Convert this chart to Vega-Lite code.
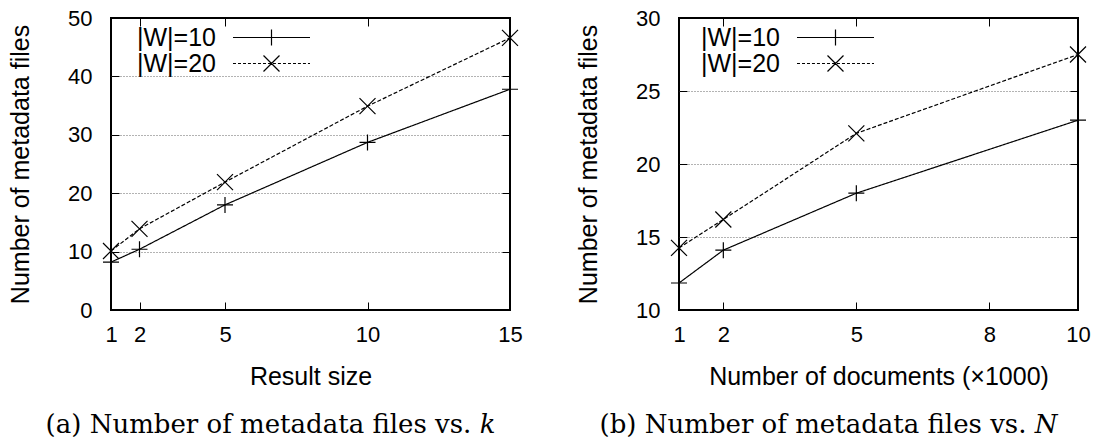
{
  "$schema": "https://vega.github.io/schema/vega-lite/v6.json",
  "background": "white",
  "padding": {"left": 7, "top": 6, "right": 5, "bottom": 0},
  "datasets": {
    "a": [
      {"size": 1, "files": 8.2, "series": "|W|=10"},
      {"size": 2, "files": 10.4, "series": "|W|=10"},
      {"size": 5, "files": 18.0, "series": "|W|=10"},
      {"size": 10, "files": 28.7, "series": "|W|=10"},
      {"size": 15, "files": 37.8, "series": "|W|=10"},
      {"size": 1, "files": 10.1, "series": "|W|=20"},
      {"size": 2, "files": 13.9, "series": "|W|=20"},
      {"size": 5, "files": 21.9, "series": "|W|=20"},
      {"size": 10, "files": 34.9, "series": "|W|=20"},
      {"size": 15, "files": 46.6, "series": "|W|=20"}
    ],
    "b": [
      {"docs": 1, "files": 11.85, "series": "|W|=10"},
      {"docs": 2, "files": 14.1, "series": "|W|=10"},
      {"docs": 5, "files": 18.0, "series": "|W|=10"},
      {"docs": 10, "files": 23.0, "series": "|W|=10"},
      {"docs": 1, "files": 14.25, "series": "|W|=20"},
      {"docs": 2, "files": 16.2, "series": "|W|=20"},
      {"docs": 5, "files": 22.1, "series": "|W|=20"},
      {"docs": 10, "files": 27.5, "series": "|W|=20"}
    ]
  },
  "hconcat": [
    {
      "width": 399,
      "height": 292,
      "title": {"text": "(a) Number of metadata files vs. 𝑘", "orient": "bottom", "anchor": "middle", "frame": "group", "dx": -40, "offset": 23, "font": "DejaVu Serif", "fontSize": 26, "fontWeight": "normal", "color": "black"},
      "data": {"name": "a"},
      "layer": [
        {
          "mark": {"type": "line", "color": "black", "strokeWidth": 1.2},
          "encoding": {
            "x": {"field": "size", "type": "quantitative", "scale": {"domain": [1, 15], "nice": false, "zero": false},
                  "axis": {"values": [1, 2, 5, 10, 15], "title": "Result size", "tickSize": -8, "labelPadding": 22, "titlePadding": 19, "labelFlush": false, "grid": false}},
            "y": {"field": "files", "type": "quantitative", "scale": {"domain": [0, 50], "nice": false},
                  "axis": {"values": [0, 10, 20, 30, 40, 50], "title": "Number of metadata files", "tickSize": -8, "labelPadding": 27, "titlePadding": 34, "grid": true, "gridColor": "#666", "gridDash": [1, 2], "gridWidth": 1,
                           "gridOpacity": {"condition": {"test": "datum.value == 0 || datum.value == 50", "value": 0}, "value": 1}}},
            "detail": {"field": "series", "type": "nominal"},
            "strokeDash": {"condition": {"test": "datum.series === '|W|=20'", "value": [4, 2]}, "value": [1, 0]}
          }
        },
        {
          "mark": {"type": "point", "filled": false, "color": "black", "strokeWidth": 1.2, "size": 256, "opacity": 1},
          "encoding": {
            "x": {"field": "size", "type": "quantitative", "axis": {"orient": "top", "values": [1, 2, 5, 10, 15], "labels": false, "title": null, "tickSize": -8, "grid": false}},
            "y": {"field": "files", "type": "quantitative", "axis": {"orient": "right", "values": [0, 10, 20, 30, 40, 50], "labels": false, "title": null, "tickSize": -8, "grid": false}},
            "shape": {"condition": {"test": "datum.series === '|W|=20'", "value": "M-1,-1L1,1M-1,1L1,-1"}, "value": "M-1,0H1M0,-1V1"}
          }
        },
        {
          "transform": [{"filter": "datum.files < 0"}],
          "mark": {"type": "point", "filled": false, "color": "black", "strokeWidth": 1.2, "opacity": 1},
          "encoding": {
            "x": {"field": "size", "type": "quantitative", "axis": null},
            "y": {"field": "files", "type": "quantitative", "axis": null},
            "shape": {"field": "series", "type": "nominal",
                      "scale": {"domain": ["|W|=10", "|W|=20"], "range": ["M-4.53,0H4.53M0,-0.94V0.94", "M-4.53,0H-4.18M-3.94,0H-3.59M-3.35,0H-3.0M-2.77,0H-2.42M-2.18,0H-1.83M-1.59,0H-1.24M-1,0H-0.65M-0.41,0H-0.06M0.17,0H0.52M0.76,0H1.11M1.35,0H1.7M1.94,0H2.29M2.53,0H2.88M3.11,0H3.46M3.7,0H4.05M4.29,0H4.53M-0.94,-0.94L0.94,0.94M-0.94,0.94L0.94,-0.94"]},
                      "legend": {"orient": "none", "legendX": 148, "legendY": 7, "title": null, "symbolSize": 289, "symbolStrokeWidth": 1.2, "symbolStrokeColor": "black", "symbolFillColor": "transparent", "symbolOpacity": 1,
                                 "labelFont": "Liberation Sans", "labelFontSize": 25, "labelColor": "black", "labelAlign": "right", "labelOffset": -68, "rowPadding": 0, "padding": 0}}
          }
        }
      ],
      "resolve": {"axis": {"x": "independent", "y": "independent"}}
    },
    {
      "width": 399,
      "height": 292,
      "title": {"text": "(b) Number of metadata files vs. 𝑁", "orient": "bottom", "anchor": "middle", "frame": "group", "dx": -50, "offset": 23, "font": "DejaVu Serif", "fontSize": 26, "fontWeight": "normal", "color": "black"},
      "data": {"name": "b"},
      "layer": [
        {
          "mark": {"type": "line", "color": "black", "strokeWidth": 1.2},
          "encoding": {
            "x": {"field": "docs", "type": "quantitative", "scale": {"domain": [1, 10], "nice": false, "zero": false},
                  "axis": {"values": [1, 2, 5, 8, 10], "title": "Number of documents (×1000)", "tickSize": -8, "labelPadding": 22, "titlePadding": 19, "labelFlush": false, "grid": false}},
            "y": {"field": "files", "type": "quantitative", "scale": {"domain": [10, 30], "nice": false, "zero": false},
                  "axis": {"values": [10, 15, 20, 25, 30], "title": "Number of metadata files", "tickSize": -8, "labelPadding": 27, "titlePadding": 34, "grid": true, "gridColor": "#666", "gridDash": [1, 2], "gridWidth": 1,
                           "gridOpacity": {"condition": {"test": "datum.value == 10 || datum.value == 30", "value": 0}, "value": 1}}},
            "detail": {"field": "series", "type": "nominal"},
            "strokeDash": {"condition": {"test": "datum.series === '|W|=20'", "value": [4, 2]}, "value": [1, 0]}
          }
        },
        {
          "mark": {"type": "point", "filled": false, "color": "black", "strokeWidth": 1.2, "size": 256, "opacity": 1},
          "encoding": {
            "x": {"field": "docs", "type": "quantitative", "axis": {"orient": "top", "values": [1, 2, 5, 8, 10], "labels": false, "title": null, "tickSize": -8, "grid": false}},
            "y": {"field": "files", "type": "quantitative", "axis": {"orient": "right", "values": [10, 15, 20, 25, 30], "labels": false, "title": null, "tickSize": -8, "grid": false}},
            "shape": {"condition": {"test": "datum.series === '|W|=20'", "value": "M-1,-1L1,1M-1,1L1,-1"}, "value": "M-1,0H1M0,-1V1"}
          }
        },
        {
          "transform": [{"filter": "datum.files < 0"}],
          "mark": {"type": "point", "filled": false, "color": "black", "strokeWidth": 1.2, "opacity": 1},
          "encoding": {
            "x": {"field": "docs", "type": "quantitative", "axis": null},
            "y": {"field": "files", "type": "quantitative", "axis": null},
            "shape": {"field": "series", "type": "nominal",
                      "scale": {"domain": ["|W|=10", "|W|=20"], "range": ["M-4.53,0H4.53M0,-0.94V0.94", "M-4.53,0H-4.18M-3.94,0H-3.59M-3.35,0H-3.0M-2.77,0H-2.42M-2.18,0H-1.83M-1.59,0H-1.24M-1,0H-0.65M-0.41,0H-0.06M0.17,0H0.52M0.76,0H1.11M1.35,0H1.7M1.94,0H2.29M2.53,0H2.88M3.11,0H3.46M3.7,0H4.05M4.29,0H4.53M-0.94,-0.94L0.94,0.94M-0.94,0.94L0.94,-0.94"]},
                      "legend": {"orient": "none", "legendX": 144, "legendY": 7, "title": null, "symbolSize": 289, "symbolStrokeWidth": 1.2, "symbolStrokeColor": "black", "symbolFillColor": "transparent", "symbolOpacity": 1,
                                 "labelFont": "Liberation Sans", "labelFontSize": 25, "labelColor": "black", "labelAlign": "right", "labelOffset": -68, "rowPadding": 0, "padding": 0}}
          }
        }
      ],
      "resolve": {"axis": {"x": "independent", "y": "independent"}}
    }
  ],
  "resolve": {"scale": {"shape": "independent"}, "legend": {"shape": "independent"}},
  "spacing": 169,
  "bounds": "flush",
  "config": {
    "font": "Liberation Sans",
    "view": {"stroke": "black", "strokeWidth": 2},
    "axis": {"labelFont": "Liberation Sans", "labelFontSize": 22, "labelColor": "black", "titleFont": "Liberation Sans", "titleFontSize": 25, "titleFontWeight": "normal", "titleColor": "black", "tickColor": "black", "tickWidth": 1, "domain": false}
  }
}
